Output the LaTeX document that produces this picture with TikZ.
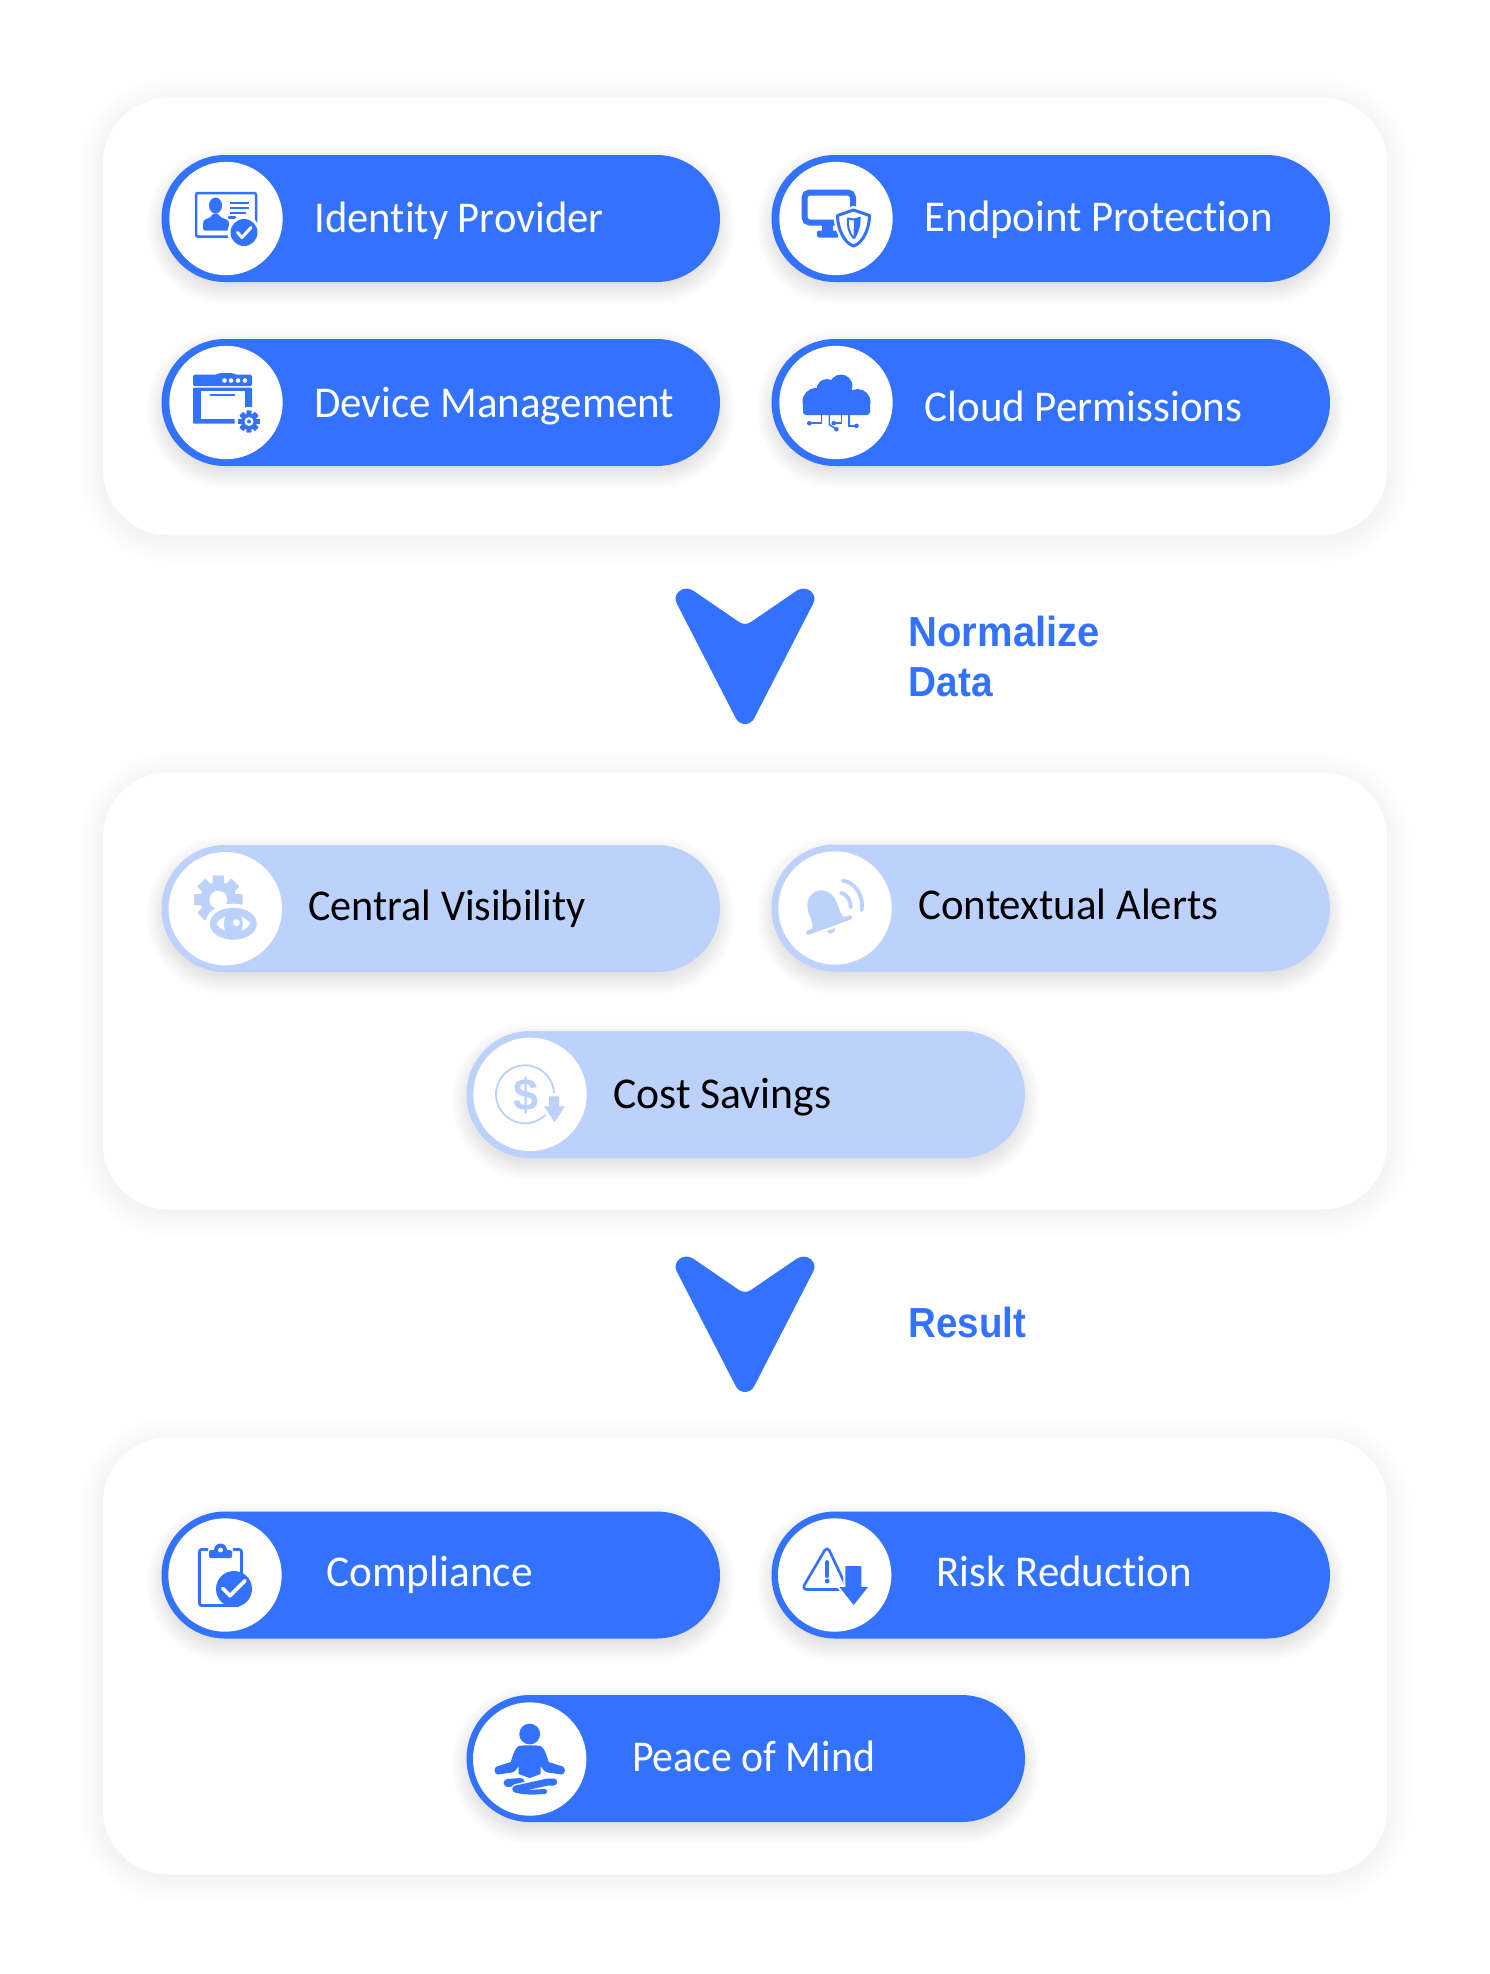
\documentclass[tikz,border=0pt]{standalone}
\usepackage{fontspec}
\usepackage{graphicx}
\setmainfont{Carlito}[Ligatures=CommonOff]
\newfontfamily\labelfont{Liberation Sans}[BoldFont={Liberation Sans Bold}]
\definecolor{bluemain}{RGB}{51,113,255}
\definecolor{bluelight}{RGB}{189,209,253}
\newcommand{\softshadow}[8]{% x1 y1 x2 y2 radius dy spread opacity
  \foreach \sp in {-10,...,10}{
    \pgfmathsetmacro{\sc}{\sp*#7/10}
    \pgfmathsetmacro{\rc}{max(#5+\sc,1)}
    \fill[black,fill opacity=#8,rounded corners=\rc pt]
      ({#1-\sc},{#2-\sc+#6}) rectangle ({#3+\sc},{#4+\sc+#6});
  }}
\newcommand{\fitw}[2]{\resizebox{#1pt}{\height}{#2}}
\newcommand{\cog}[5]{% cx cy body-radius tooth-radius colour
  \fill[#5] (#1,#2) circle ({#3});
  \foreach \a in {0,45,...,315}{
    \fill[#5,rotate around={\a:(#1,#2)},rounded corners=0.5pt]
      ({#1-0.23*#4},{#2-#4}) rectangle ({#1+0.23*#4},{#2+#4});
  }}
\tikzset{
  x=1pt,y=-1pt,
  panel/.style={rectangle,draw=none,fill=white,rounded corners=65pt,inner sep=0pt,minimum width=1284pt,minimum height=437pt},
  pillbox/.style={rectangle,draw=none,rounded corners=63.5pt,inner sep=0pt,minimum width=558.5pt,minimum height=127pt},
  disc/.style={circle,fill=white,draw=none,inner sep=0pt,minimum size=113.4pt},
  pilltext/.style={anchor=base west,inner sep=0pt,font=\fontsize{44pt}{44pt}\selectfont},
  flowlabel/.style={anchor=base west,inner sep=0pt,text=bluemain,font=\labelfont\bfseries\fontsize{42pt}{42pt}\selectfont},
  chevron/.style={fill=bluemain,draw=none},
}
\newcommand{\chevronpath}{
  (676.7,603.3) .. controls (671.65,593.5) and (683.8,584.3) .. (693.3,590.7)
  -- (739,622) .. controls (743,624.5) and (747,624.5) .. (751,622)
  -- (796.7,590.7) .. controls (806.2,584.3) and (818.35,593.5) .. (813.3,603.3)
  -- (754.3,718) .. controls (750.2,726) and (739.8,726) .. (735.7,718) -- cycle}
\begin{document}
\begin{tikzpicture}
\useasboundingbox (0,0) rectangle (1490,1974);
\fill[white] (0,0) rectangle (1490,1974);

% panels
\softshadow{103}{98}{1387}{535}{65}{4}{24}{0.0055}
\softshadow{103}{773}{1387}{1209}{65}{4}{24}{0.0055}
\softshadow{103}{1438}{1387}{1874}{65}{4}{24}{0.0055}
\node[panel] (panelA) at (745,316.5) {};
\node[panel] (panelB) at (745,991) {};
\node[panel] (panelC) at (745,1656) {};

% pill shadows
\foreach \xa/\ya in {161.5/155,771.5/155,161.5/339,771.5/339,161.5/845,771.5/845,466.5/1031,161.5/1512,771.5/1512,466.5/1695}{
  \softshadow{\xa}{\ya}{\xa+558.5}{\ya+127}{63}{7}{15}{0.007}
}

% pills
\node[pillbox,fill=bluemain] (idp) at (440.75,218.5) {};
\node[pillbox,fill=bluemain] (epp) at (1050.75,218.5) {};
\node[pillbox,fill=bluemain] (dev) at (440.75,402.5) {};
\node[pillbox,fill=bluemain] (cld) at (1050.75,402.5) {};
\node[pillbox,fill=bluelight] (vis) at (440.75,908.5) {};
\node[pillbox,fill=bluelight] (alr) at (1050.75,908) {};
\node[pillbox,fill=bluelight] (cst) at (745.75,1094.5) {};
\node[pillbox,fill=bluemain] (cmp) at (440.75,1575) {};
\node[pillbox,fill=bluemain] (rsk) at (1050.75,1575) {};
\node[pillbox,fill=bluemain] (pce) at (745.75,1758.5) {};

% discs
\node[disc] (idpd) at (226,218.5) {};
\node[disc] (eppd) at (836,218.5) {};
\node[disc] (devd) at (226,402.5) {};
\node[disc] (cldd) at (836,402.5) {};
\node[disc] (visd) at (225.3,908.7) {};
\node[disc] (alrd) at (835,908) {};
\node[disc] (cstd) at (530,1094.3) {};
\node[disc] (cmpd) at (225,1575) {};
\node[disc] (rskd) at (834.7,1575) {};
\node[disc] (pced) at (529.7,1759) {};

% pill texts
\node[pilltext,text=white] (t1) at (314.5,232.7) {\fitw{289}{Identity Provider}};
\node[pilltext,text=white] (t2) at (924.5,231.7) {\fitw{348}{Endpoint Protection}};
\node[pilltext,text=white] (t3) at (314,417.7) {\fitw{360}{Device Management}};
\node[pilltext,text=white] (t4) at (924.5,421) {\fitw{317.5}{Cloud Permissions}};
\node[pilltext,text=black] (t5) at (308.2,920.3) {\fitw{277}{Central Visibility}};
\node[pilltext,text=black] (t6) at (918.2,919.3) {\fitw{300}{Contextual Alerts}};
\node[pilltext,text=black] (t7) at (613,1108) {\fitw{218}{Cost Savings}};
\node[pilltext,text=white] (t8) at (326,1586) {\fitw{206.5}{Compliance}};
\node[pilltext,text=white] (t9) at (936.5,1586) {\fitw{255}{Risk Reduction}};
\node[pilltext,text=white] (t10) at (632,1771) {\fitw{243}{Peace of Mind}};

% flow chevrons and labels
\fill[chevron] \chevronpath;
\begin{scope}[shift={(0,668)}]
\fill[chevron] \chevronpath;
\end{scope}
\node[flowlabel] (l1) at (908.5,646) {\fitw{191}{Normalize}};
\node[flowlabel] (l2) at (908.5,696) {\fitw{84}{Data}};
\node[flowlabel] (l3) at (908.5,1337) {\fitw{117.5}{Result}};

% ---------- icons ----------
% identity
\begin{scope}[shift={(226,218.5)},bluemain]
\draw[line width=2.5pt,rounded corners=2pt] (-30,-25.5) rectangle (30,18);
\fill (-10.5,-13) ellipse [x radius=6.5pt,y radius=8pt];
\fill[rounded corners=2pt] (-23,12) -- (-23,5) .. controls (-22,0) and (-15,0) .. (-14,-5) -- (-7,-5) .. controls (-6,0) and (2,0) .. (3,5) -- (3,12) -- cycle;
\draw[line width=2pt] (4,-16) -- (23,-16) (4,-11) -- (23,-11) (4,-6) -- (20,-6);
\draw[line width=2.5pt,line cap=round] (3,-1) -- (9,-1);
\fill[white] (18,14) circle (16.5);
\fill (18,14) circle (13.5);
\draw[white,line width=3pt,line cap=round,line join=round] (11.5,14) -- (16,19) -- (25,9);
\end{scope}
% device management
\begin{scope}[shift={(226,402.5)},bluemain]
\fill[rounded corners=1.5pt] (-33,-16.5) -- (-33,-28) -- (-9,-28) -- (-7,-29.5) -- (7,-29.5) -- (9,-28) -- (26,-28) -- (26,-16.5) -- cycle;
\foreach \dx in {-1.5,5,12,19}{\fill[white] (\dx,-22) circle (2.3);}
\fill[rounded corners=1pt] (-33,-15) rectangle (26,21);
\fill[white] (-25.5,-11.5) rectangle (19,16);
\draw[line width=2.5pt] (-16,-7.5) -- (9,-7.5);
\fill[white] (23,19) circle (14.5);
\cog{23}{19}{8}{10.8}{bluemain}
\fill[white] (23,19) circle (4.5);
\fill (23,19) circle (2);
\end{scope}
% endpoint
\begin{scope}[shift={(836,218.5)},bluemain]
\draw[line width=6pt,rounded corners=5pt] (-31.5,-26) rectangle (17,4);
\fill (-14,6) rectangle (-3.5,13);
\fill[rounded corners=2pt] (-19,12) rectangle (3,19);
\draw[white,line width=5pt,fill=white] (17.5,-10) -- (35,-4) .. controls (35,10) and (28,26) .. (17.5,29) .. controls (7,26) and (0,10) .. (0,-4) -- cycle;
\draw[line width=3pt,fill=white,line join=round] (17.5,-8.5) -- (33.5,-3) .. controls (33.5,10) and (27,24.5) .. (17.5,27.5) .. controls (8,24.5) and (1.5,10) .. (1.5,-3) -- cycle;
\draw[line width=2pt,line join=round] (18,1) -- (12,0) .. controls (11,7) and (13,15) .. (18,20);
\fill (18,0) -- (24.5,-2) .. controls (25,6) and (23,14) .. (19,20) -- (17.5,20) -- cycle;
\end{scope}
% cloud
\begin{scope}[shift={(836,402.5)},bluemain]
\fill (-20,-1) circle (13.5);
\fill (-9,-13) circle (10.5);
\fill (5,-16.5) circle (11.5);
\fill (21.5,-0.5) circle (13);
\fill[rounded corners=3pt] (-33,-6) rectangle (34,12.5);
\fill (-14,-14) rectangle (16,0);
\begin{scope}[line width=1.5pt]
\draw (-14.3,12) -- (-14.3,20.7) -- (-26.7,20.7);
\draw (-6.6,12) -- (-6.6,22.3) -- (0.4,26.7);
\draw (5.4,12) -- (5.4,20.7) -- (-2.3,20.7);
\draw (12.8,12) -- (12.8,23.3) -- (20.5,23.3);
\end{scope}
\foreach \px/\py in {-26.7/20.7,0.4/26.7,-2.3/20.7,20.5/23.3}{\fill (\px,\py) circle (2.3);}
\end{scope}
% central visibility
\begin{scope}[shift={(225.3,908.7)},bluelight]
\cog{-7}{-9}{18}{24}{bluelight}
\fill[white] (-7,-9) circle (9);
\fill[white] (8,15) ellipse [x radius=28pt,y radius=20pt];
\fill (8,15) ellipse [x radius=23.5pt,y radius=16pt];
\fill[white] (-9,15) .. controls (-3,4) and (19,4) .. (25,15) .. controls (19,26) and (-3,26) .. (-9,15) -- cycle;
\fill (8,15) ellipse [x radius=9.5pt,y radius=13pt];
\fill[white] (11,14) circle (3.5);
\end{scope}
% contextual alerts
\begin{scope}[shift={(835,908)},bluelight]
\begin{scope}[shift={(-6,17)},rotate=20]
\fill (-19,0) .. controls (-14,-4) and (-15,-10) .. (-15,-18) .. controls (-15,-30) and (-7,-36) .. (0,-36) .. controls (7,-36) and (15,-30) .. (15,-18) .. controls (15,-10) and (14,-4) .. (19,0) -- cycle;
\draw[line width=4.5pt,line cap=round] (-22,0) -- (22,0);
\fill (-4.5,5) .. controls (-4,10) and (4,10) .. (4.5,5) -- cycle;
\end{scope}
\draw[line width=3.8pt,line cap=round] (6,-15.3) .. controls (12,-14) and (16,-7) .. (15.7,-0.7);
\draw[line width=3.8pt,line cap=round] (7.7,-27.3) .. controls (20,-26) and (29,-12) .. (26.7,2);
\end{scope}
% cost savings
\begin{scope}[shift={(530,1094.3)},bluelight]
\draw[line width=1.8pt] plot[domain=-315:-3,samples=50,smooth] ({-5+29*cos(\x)},{29*sin(\x)});
\node[inner sep=0pt,text=bluelight,font=\labelfont\bfseries\fontsize{45pt}{45pt}\selectfont] (dollar) at (-4,1) {\$};
\path[fill=white,draw=white,line width=4pt] (19,2) -- (29,2) -- (29,12) -- (35,12) -- (24.5,28) -- (14,12) -- (19,12) -- cycle;
\fill (19,2) -- (29,2) -- (29,12) -- (35,12) -- (24.5,28) -- (14,12) -- (19,12) -- cycle;
\end{scope}
% compliance
\begin{scope}[shift={(225,1575)},bluemain]
\draw[line width=2.6pt,rounded corners=2pt] (-17,-25.5) -- (-25.5,-25.5) -- (-25.5,30.5) -- (10,30.5);
\draw[line width=2.6pt,rounded corners=2pt] (8,-25.5) -- (16.5,-25.5) -- (16.5,0);
\fill[rounded corners=1.5pt] (-16,-17) rectangle (7,-25);
\fill (-4.5,-25) circle (6.5);
\fill[white] (-4.5,-25) circle (2.4);
\fill (9,14) circle (18);
\fill (9,14) rectangle (14,32);
\draw[white,line width=3.6pt,line cap=round,line join=round] (-2.3,13.3) -- (5,20.7) -- (20,5.7);
\end{scope}
% risk reduction
\begin{scope}[shift={(834.7,1575)},bluemain]
\draw[line width=2.6pt,rounded corners=5pt,line join=round] (-7.5,-29) -- (13,14.5) -- (-33,14.5) -- cycle;
\draw[line width=3.8pt,line cap=round] (-7.5,-13) -- (-7.5,1);
\fill (-7.5,6) circle (2.4);
\path[fill=white,draw=white,line width=4pt] (10.7,-9) -- (26.7,-9) -- (26.7,12) -- (33.3,12) -- (19,30) -- (4.7,12) -- (10.7,12) -- cycle;
\fill (10.7,-9) -- (26.7,-9) -- (26.7,12) -- (33.3,12) -- (19,30) -- (4.7,12) -- (10.7,12) -- cycle;
\end{scope}
% peace of mind
\begin{scope}[shift={(529.7,1759)},bluemain]
\fill (0,-25) circle (10.4);
\fill (-11,-13) .. controls (-5,-14) and (5,-14) .. (11,-13) .. controls (15,-11) and (17,-3) .. (19,3) -- (33,7.5) .. controls (36,8.5) and (36,15) .. (32,15.5) -- (18,13.5) .. controls (15,13) and (13,10) .. (11,7) -- (11,15) -- (0,19) -- (-11,15) -- (-11,7) .. controls (-13,10) and (-15,13) .. (-18,13.5) -- (-32,15.5) .. controls (-36,15) and (-36,8.5) .. (-33,7.5) -- (-19,3) .. controls (-17,-3) and (-15,-11) .. (-11,-13) -- cycle;
\draw[line width=8pt,line cap=round] (-22,24) -- (-9,23);
\draw[white,line width=10pt,line cap=round] (-14,30) -- (24,22);
\draw[line width=7pt,line cap=round] (-14,30) -- (18,23) -- (24,23);
\draw[line width=5pt,line cap=round] (-14,31) .. controls (-4,34) and (6,33) .. (15,32.5);
\end{scope}
\end{tikzpicture}
\end{document}
